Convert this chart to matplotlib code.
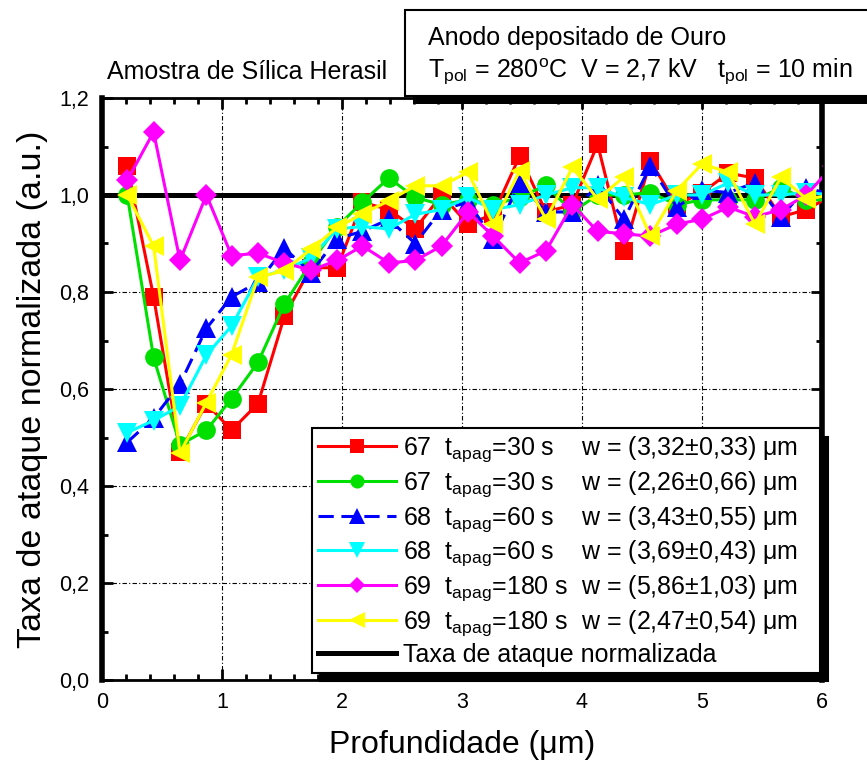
import matplotlib
matplotlib.use("Agg")
import matplotlib.pyplot as plt
from matplotlib.patches import Rectangle
from matplotlib.ticker import MultipleLocator, AutoMinorLocator, FuncFormatter

plt.rcParams['font.family'] = ['Liberation Sans', 'DejaVu Sans']
plt.rcParams['mathtext.fontset'] = 'custom'
plt.rcParams['mathtext.rm'] = 'Liberation Sans'
plt.rcParams['mathtext.it'] = 'Liberation Sans:italic'
plt.rcParams['mathtext.bf'] = 'Liberation Sans:bold'

# profundidade (um) de cada medida
depth = [0.21, 0.43, 0.65, 0.87, 1.08, 1.30, 1.52, 1.74, 1.96, 2.17, 2.39, 2.61,
         2.83, 3.05, 3.26, 3.48, 3.70, 3.92, 4.13, 4.35, 4.57, 4.79, 5.00, 5.22,
         5.44, 5.66, 5.87, 6.09]

# taxa de ataque normalizada por amostra
s67_a = [1.06, 0.79, 0.47, 0.57, 0.515, 0.57, 0.75, 0.85, 0.85, 0.985, 0.97, 0.93,
         1.0, 0.94, 0.96, 1.08, 0.965, 0.98, 1.105, 0.885, 1.07, 0.98, 1.005, 1.045,
         1.035, 0.955, 0.97, 1.0]
s67_b = [1.0, 0.665, 0.485, 0.515, 0.58, 0.655, 0.775, 0.86, 0.935, 0.985, 1.035, 0.995,
         0.98, 0.99, 0.98, 0.995, 1.02, 0.965, 1.0, 1.0, 1.005, 0.98, 0.99, 0.99,
         0.99, 1.015, 0.99, 0.99]
s68_a = [0.49, 0.54, 0.61, 0.725, 0.79, 0.82, 0.89, 0.84, 0.91, 0.925, 0.95, 0.90,
         0.97, 0.985, 0.91, 1.025, 0.965, 0.965, 1.02, 0.95, 1.06, 0.975, 1.01, 1.005,
         1.025, 0.955, 1.015, 1.0]
s68_b = [0.51, 0.535, 0.565, 0.67, 0.73, 0.83, 0.845, 0.87, 0.93, 0.935, 0.93, 0.96,
         0.97, 0.995, 0.97, 0.98, 1.0, 1.015, 1.015, 0.995, 0.98, 1.0, 1.0, 1.025,
         1.0, 1.0, 1.005, 1.0]
s69_a = [1.03, 1.13, 0.865, 1.0, 0.875, 0.88, 0.86, 0.845, 0.865, 0.895, 0.86, 0.865,
         0.895, 0.965, 0.915, 0.86, 0.885, 0.98, 0.925, 0.92, 0.915, 0.94, 0.95, 0.975,
         0.955, 0.97, 1.0, 1.06]
s69_b = [1.0, 0.895, 0.468, 0.572, 0.671, 0.83, 0.844, 0.888, 0.933, 0.961, 0.988, 1.019,
         1.019, 1.047, 0.94, 1.05, 0.95, 1.057, 0.992, 1.037, 0.916, 1.009, 1.064, 1.047,
         0.94, 1.037, 0.992, 1.0]

reference_rate = 1.0

labels = [
    r'67  t$_{\mathrm{apag}}$=30 s    w = (3,32±0,33) μm   ',
    r'67  t$_{\mathrm{apag}}$=30 s    w = (2,26±0,66) μm   ',
    r'68  t$_{\mathrm{apag}}$=60 s    w = (3,43±0,55) μm   ',
    r'68  t$_{\mathrm{apag}}$=60 s    w = (3,69±0,43) μm   ',
    r'69  t$_{\mathrm{apag}}$=180 s  w = (5,86±1,03) μm   ',
    r'69  t$_{\mathrm{apag}}$=180 s  w = (2,47±0,54) μm   ',
]

series = [s67_a, s67_b, s68_a, s68_b, s69_a, s69_b]
colors = ['#ff0000', '#00e000', '#0000ff', '#00ffff', '#ff00ff', '#ffff00']
markers = ['s', 'o', '^', 'v', 'D', '<']
msizes = [12.5, 13.5, 15, 15, 11, 15]
styles = ['-', '-', (0, (5, 2.5)), '-', '-', '-']

W, H = 867, 765
fig = plt.figure(figsize=(W / 100, H / 100), dpi=100)
ax = fig.add_axes([102 / W, 1 - 680 / H, 720 / W, 582 / H])

for y, c, m, ms, ls, lab in zip(series, colors, markers, msizes, styles, labels):
    ax.plot(depth, y, color=c, marker=m, markersize=ms, linestyle=ls,
            linewidth=2.2, markeredgewidth=0, label=lab, zorder=3)

ax.axhline(reference_rate, color='black', linewidth=3.6, zorder=2,
           label='Taxa de ataque normalizada')

ax.set_xlim(0, 6)
ax.set_ylim(0, 1.2)
ax.xaxis.set_major_locator(MultipleLocator(1))
ax.xaxis.set_minor_locator(AutoMinorLocator(5))
ax.yaxis.set_major_locator(MultipleLocator(0.2))
ax.yaxis.set_minor_locator(AutoMinorLocator(2))
ax.xaxis.set_major_formatter(FuncFormatter(lambda v, p: f'{v:.0f}'))
ax.yaxis.set_major_formatter(FuncFormatter(lambda v, p: f'{v:.1f}'.replace('.', ',')))

ax.tick_params(which='both', direction='in', top=True, right=True, labelsize=15.5)
ax.tick_params(which='major', length=8, width=2, pad=9)
ax.tick_params(which='minor', length=4.5, width=2)
for side in ['left', 'right']:
    ax.spines[side].set_linewidth(4)
for side in ['top', 'bottom']:
    ax.spines[side].set_linewidth(2)

ax.grid(True, which='major', color='black', linewidth=0.8,
        linestyle=(0, (4, 2, 1, 2)))
ax.set_axisbelow(True)

ax.set_xlabel('Profundidade (μm)', fontsize=23, labelpad=12)
ax.set_ylabel('Taxa de ataque normalizada (a.u.)', fontsize=24.5, labelpad=8)

leg = ax.legend(loc='lower right', bbox_to_anchor=(718 / 720, 7 / 582),
                borderaxespad=0, fontsize=18, frameon=True, fancybox=False,
                edgecolor='black', framealpha=1, handlelength=3.1,
                handletextpad=0.3, labelspacing=0.2, borderpad=0.25,
                markerscale=0.75,
                shadow={'ox': 6, 'oy': -6, 'color': 'black', 'alpha': 1})
leg.get_frame().set_linewidth(1.5)
leg.set_zorder(6)

fig.text(107 / W, 1 - 72 / H, 'Amostra de Sílica Herasil', fontsize=18,
         ha='left', va='center')

# caixa com as condicoes de polarizacao
fig.add_artist(Rectangle((413 / W, 1 - 104 / H), 470 / W, 94 / H,
                         transform=fig.transFigure, facecolor='black',
                         edgecolor='none', zorder=8))
fig.add_artist(Rectangle((405 / W, 1 - 96 / H), 470 / W, 86 / H,
                         transform=fig.transFigure, facecolor='white',
                         edgecolor='black', linewidth=1.5, zorder=9))
fig.text(428 / W, 1 - 38 / H, 'Anodo depositado de Ouro', fontsize=18,
         ha='left', va='center', zorder=10)
fig.text(428 / W, 1 - 72 / H,
         r'T$_{\mathrm{pol}}$ = 280$^{\mathrm{o}}$C  V = 2,7 kV   t$_{\mathrm{pol}}$ = 10 min',
         fontsize=18, ha='left', va='center', zorder=10)

fig.savefig('out.png', dpi=100)
